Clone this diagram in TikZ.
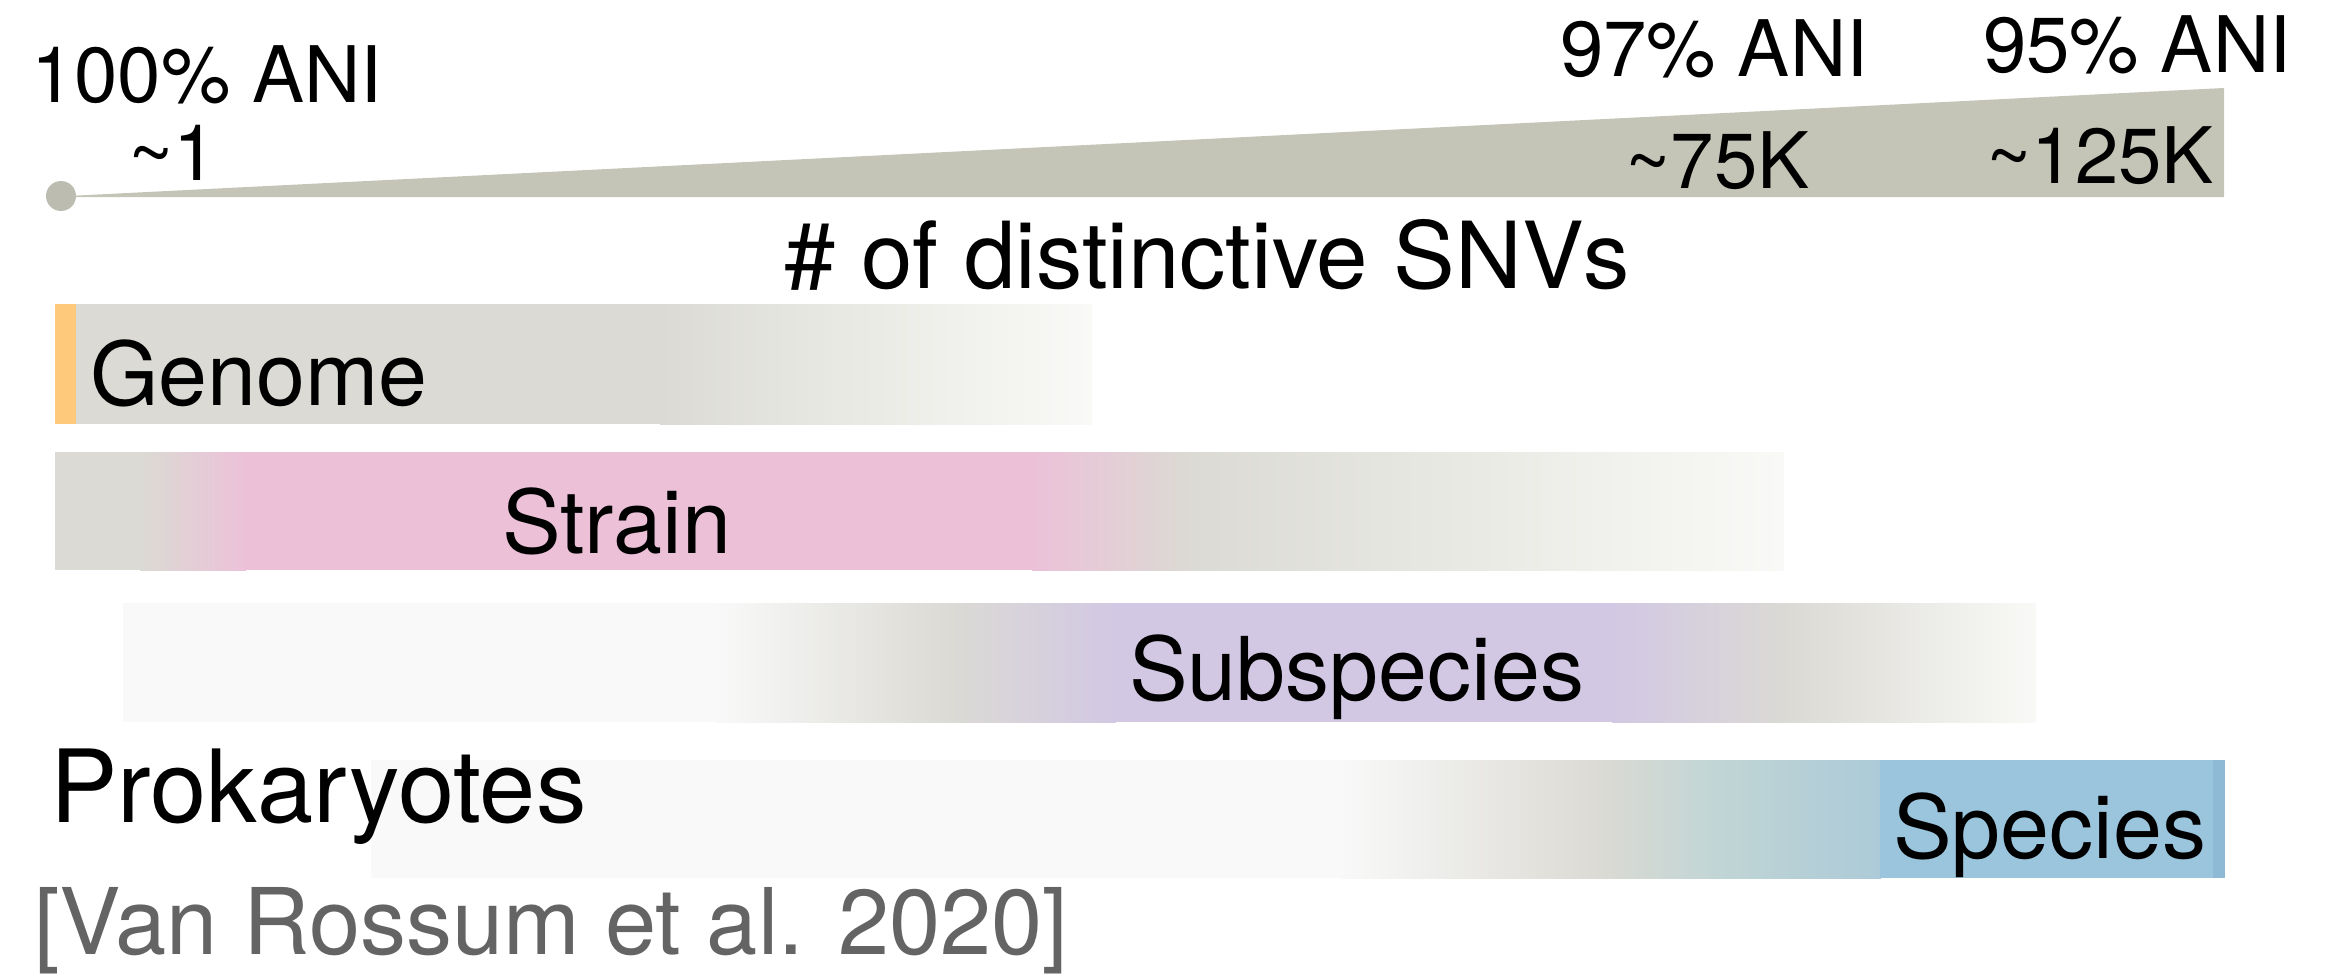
\documentclass[tikz,border=0pt]{standalone}
\usepackage{fontspec}
\setmainfont{TeX Gyre Heros}
\definecolor{wedge}{RGB}{196,196,183}
\definecolor{dot}{RGB}{188,188,176}
\definecolor{orng}{RGB}{254,201,123}
\definecolor{bgray}{RGB}{219,218,212}
\definecolor{bgrayl}{RGB}{230,230,224}
\definecolor{lend}{RGB}{249,249,247}
\definecolor{nwhite}{RGB}{249,249,249}
\definecolor{pnk}{RGB}{236,193,216}
\definecolor{prpl}{RGB}{210,200,227}
\definecolor{blu}{RGB}{154,197,221}
\definecolor{bluedge}{RGB}{143,186,214}
\definecolor{teal}{RGB}{192,213,213}
\definecolor{lblu}{RGB}{172,202,216}
\definecolor{cite}{RGB}{100,100,100}
\tikzset{
  lbl/.style={inner sep=0pt, anchor=base west, text=black},
  ani/.style={lbl, font=\fontsize{78}{90}\selectfont},
  snv/.style={lbl, font=\fontsize{92.5}{100}\selectfont},
  barlbl/.style={lbl, font=\fontsize{88}{100}\selectfont},
  prok/.style={lbl, font=\fontsize{101}{110}\selectfont},
  citelbl/.style={lbl, font=\fontsize{92}{100}\selectfont, text=cite},
}
\begin{document}
\begin{tikzpicture}[x=1pt,y=-1pt]
\useasboundingbox (0,0) rectangle (2345,974);
% wedge
\fill[wedge] (68,196) -- (2224,88) -- (2224,197) -- (68,197) -- cycle;
\fill[dot] (61,196) circle (15);
% labels top
\node[ani] (a100) at (31,102) {100\% ANI};
\node[ani] (n1) at (128,180) {\textasciitilde 1};
\node[ani] (a97) at (1560,77) {97\% ANI};
\node[ani] (a95) at (1983,73) {95\% ANI};
\node[ani] (n75) at (1625,188) {\textasciitilde 75K};
\node[ani] (n125) at (1986,183) {\textasciitilde 125K};
\node[snv] (snv) at (784,288) {\# of distinctive SNVs};
% Genome bar
\fill[orng] (55,304) rectangle (77,424);
\fill[bgray] (76,304) rectangle (661,424);
\shade[left color=bgray, right color=bgrayl] (660,304) rectangle (801,424);
\shade[left color=bgrayl, right color=lend] (800,304) rectangle (1092,424);
% Strain bar
\fill[bgray] (55,452) rectangle (141,570);
\shade[left color=bgray, right color=pnk] (140,452) rectangle (246,570);
\fill[pnk] (245,452) rectangle (1033,570);
\shade[left color=pnk, right color=bgray] (1032,452) rectangle (1191,570);
\shade[left color=bgray, right color=bgrayl] (1190,452) rectangle (1401,570);
\shade[left color=bgrayl, right color=lend] (1400,452) rectangle (1784,570);
% Subspecies bar
\fill[nwhite] (123,603) rectangle (716,722);
\shade[left color=nwhite, right color=bgray] (715,603) rectangle (951,722);
\shade[left color=bgray, right color=prpl] (950,603) rectangle (1116,722);
\fill[prpl] (1115,603) rectangle (1613,722);
\shade[left color=prpl, right color=bgray] (1612,603) rectangle (1791,722);
\shade[left color=bgray, right color=lend] (1790,603) rectangle (2036,722);
% Species bar
\fill[nwhite] (371,760) rectangle (1341,878);
\shade[left color=nwhite, right color=bgray] (1340,760) rectangle (1601,878);
\shade[left color=bgray, right color=teal] (1600,760) rectangle (1721,878);
\shade[left color=teal, right color=lblu] (1720,760) rectangle (1881,878);
\fill[blu] (1880,760) rectangle (2214,878);
\fill[bluedge] (2213,760) rectangle (2225,878);
% bar labels
\node[barlbl] (genome) at (90,405) {Genome};
\node[barlbl] (strain) at (502,553) {Strain};
\node[barlbl] (subsp) at (1129,700) {Subspecies};
\node[barlbl] (species) at (1893,858) {Species};
\node[prok] (prok) at (50,822) {Prokaryotes};
\node[citelbl] (cite) at (34,954) {[Van Rossum et al. 2020]};
\end{tikzpicture}
\end{document}
